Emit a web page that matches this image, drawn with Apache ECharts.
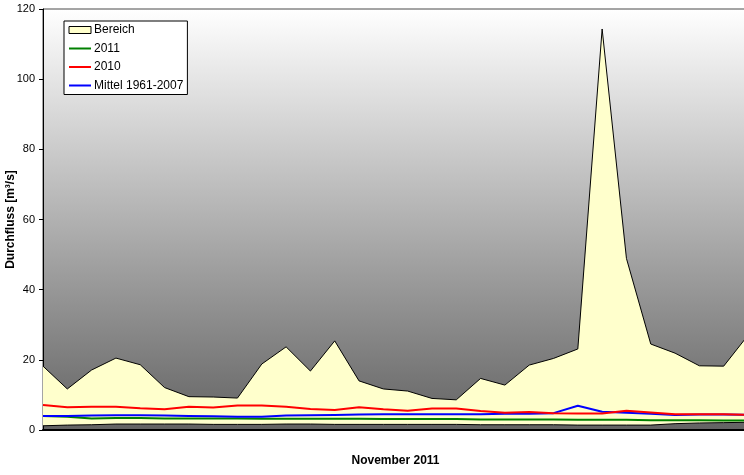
<!DOCTYPE html>
<html>
<head>
<meta charset="utf-8">
<script src="https://cdn.jsdelivr.net/npm/echarts@6/dist/echarts.min.js"></script>
<style>
  html, body { margin: 0; padding: 0; background: #ffffff; }
  #chart { width: 744px; height: 475px; }
</style>
</head>
<body>
<div id="chart"></div>
<script>
// Tage im November 2011
const days = Array.from({ length: 30 }, (_, i) => String(i + 1));

// Bereich: Minimum und Maximum 1961-2007 [m³/s]
const rangeMin = [1.2, 1.4, 1.5, 1.7, 1.7, 1.7, 1.7, 1.6, 1.6, 1.6,
                  1.7, 1.7, 1.6, 1.6, 1.6, 1.6, 1.6, 1.6, 1.5, 1.5,
                  1.5, 1.5, 1.4, 1.4, 1.4, 1.4, 1.8, 2.0, 2.1, 2.2];
const rangeMax = [18.2, 11.7, 17.1, 20.5, 18.6, 12.1, 9.5, 9.4, 9.1, 18.8,
                  23.7, 16.8, 25.4, 14.0, 11.7, 11.1, 9.0, 8.6, 14.7, 12.8,
                  18.5, 20.4, 23.1, 114.3, 48.9, 24.5, 21.9, 18.3, 18.2, 27.0];

// Tageswerte
const flow2011 = [4.0, 3.8, 3.3, 3.4, 3.4, 3.3, 3.3, 3.3, 3.3, 3.2,
                  3.2, 3.2, 3.2, 3.2, 3.1, 3.1, 3.1, 3.1, 3.0, 3.0,
                  3.0, 3.0, 2.9, 2.9, 2.9, 2.8, 2.8, 2.8, 2.7, 2.7];
const flow2010 = [7.1, 6.5, 6.6, 6.6, 6.2, 5.9, 6.6, 6.4, 7.0, 7.0,
                  6.6, 6.0, 5.7, 6.5, 5.9, 5.5, 6.1, 6.1, 5.4, 4.9,
                  5.1, 4.8, 4.7, 4.7, 5.5, 5.0, 4.5, 4.5, 4.5, 4.3];
const flowMean = [4.0, 4.0, 4.1, 4.2, 4.2, 4.1, 4.0, 3.9, 3.8, 3.8,
                  4.1, 4.2, 4.3, 4.4, 4.5, 4.5, 4.5, 4.5, 4.5, 4.6,
                  4.6, 4.8, 6.9, 5.2, 4.9, 4.6, 4.3, 4.4, 4.4, 4.3];

// Achse
const yTicks = [0, 20, 40, 60, 80, 100, 120];

// Band über dem Minimum (für die gestapelte Fläche)
const rangeSpan = rangeMax.map((v, i) => +(v - rangeMin[i]).toFixed(2));

const FONT = '"Liberation Sans", Arial, sans-serif';

const chart = echarts.init(document.getElementById('chart'), null, { renderer: 'canvas' });

chart.setOption({
  animation: false,
  backgroundColor: '#ffffff',
  textStyle: { fontFamily: FONT, color: '#000' },
  grid: {
    left: 43, top: 9, width: 705, height: 421,
    containLabel: false,
    outerBoundsMode: 'none',
    show: true,
    borderColor: '#4a4a4a',
    borderWidth: 1,
    backgroundColor: new echarts.graphic.LinearGradient(0, 0, 0, 1, [
      { offset: 0, color: '#ffffff' },
      { offset: 1, color: '#636363' }
    ])
  },
  legend: {
    orient: 'vertical',
    left: 64, top: 21,
    backgroundColor: '#ffffff',
    borderColor: '#000000',
    borderWidth: 1,
    borderRadius: 0,
    padding: [2, 4, 2, 4],
    itemWidth: 22,
    itemHeight: 7,
    itemGap: 4.5,
    itemStyle: { opacity: 0, borderWidth: 0 },
    textStyle: { fontFamily: FONT, fontSize: 12, color: '#000', lineHeight: 14, padding: [0, 0, 0, -2] },
    data: [
      { name: 'Bereich', icon: 'rect', itemStyle: { color: '#ffffcc', borderColor: '#000', borderWidth: 1, opacity: 1 } },
      { name: '2011' },
      { name: '2010' },
      { name: 'Mittel 1961-2007' }
    ]
  },
  xAxis: {
    type: 'category',
    data: days,
    boundaryGap: false,
    name: 'November 2011',
    nameLocation: 'middle',
    nameGap: 25,
    nameMoveOverlap: false,
    nameTextStyle: { fontFamily: FONT, fontSize: 12, fontWeight: 'bold', color: '#000' },
    axisLine: { show: true, onZero: false, lineStyle: { color: '#000', width: 2 } },
    axisTick: { show: false },
    axisLabel: { show: false },
    splitLine: { show: false }
  },
  yAxis: {
    type: 'value',
    min: yTicks[0],
    max: yTicks[yTicks.length - 1],
    interval: yTicks[1] - yTicks[0],
    name: 'Durchfluss [m³/s]',
    nameLocation: 'middle',
    nameGap: 26,
    nameMoveOverlap: false,
    nameTextStyle: { fontFamily: FONT, fontSize: 12, fontWeight: 'bold', color: '#000' },
    axisLine: { show: true, lineStyle: { color: '#000', width: 1 } },
    axisTick: { show: true, inside: false, length: 4, lineStyle: { color: '#000' } },
    axisLabel: { fontFamily: FONT, fontSize: 11, color: '#000', margin: 8 },
    splitLine: { show: false }
  },
  series: [
    {
      name: 'Minimum',
      type: 'line',
      stack: 'range',
      data: rangeMin,
      symbol: 'none',
      lineStyle: { color: '#000', width: 1 },
      itemStyle: { color: '#000' },
      z: 2
    },
    {
      name: 'Bereich',
      type: 'line',
      stack: 'range',
      data: rangeSpan,
      symbol: 'none',
      lineStyle: { color: '#000', width: 1 },
      itemStyle: { color: '#ffffcc', borderColor: '#000' },
      areaStyle: { color: '#ffffcc', opacity: 1 },
      z: 2
    },
    {
      name: '2011',
      type: 'line',
      data: flow2011,
      symbol: 'none',
      lineStyle: { color: '#008000', width: 2 },
      itemStyle: { color: '#008000' },
      z: 3
    },
    {
      name: 'Mittel 1961-2007',
      type: 'line',
      data: flowMean,
      symbol: 'none',
      lineStyle: { color: '#0000ff', width: 2 },
      itemStyle: { color: '#0000ff' },
      z: 3
    },
    {
      name: '2010',
      type: 'line',
      data: flow2010,
      symbol: 'none',
      lineStyle: { color: '#ff0000', width: 2 },
      itemStyle: { color: '#ff0000' },
      z: 3
    }
  ]
});
</script>
</body>
</html>
